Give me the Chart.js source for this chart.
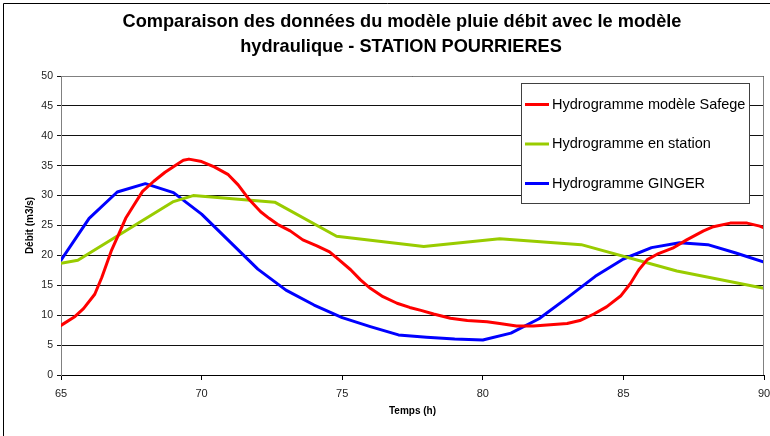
<!DOCTYPE html>
<html>
<head>
<meta charset="utf-8">
<script src="https://cdn.jsdelivr.net/npm/chart.js@4.4.0/dist/chart.umd.min.js"></script>
<style>
  html, body { margin: 0; padding: 0; background: #fff; }
  #wrap { width: 770px; height: 436px; position: relative; }
</style>
</head>
<body>
<div id="wrap"><canvas id="chartPourrieres" width="770" height="436"></canvas></div>
<script>
// Hydrogramme modèle Safege
const safegeTemps = [65.0, 65.5, 65.8, 66.2, 66.45, 66.8, 67.05, 67.3, 67.55, 67.9, 68.3, 68.7, 69.05, 69.35, 69.55, 70.0,
    70.45, 70.95, 71.3, 71.7, 72.1, 72.4, 72.7, 73.15, 73.6, 74.1, 74.55, 74.9, 75.3, 75.65, 76.0, 76.45, 76.95,
    77.4, 77.8, 78.25, 78.85, 79.45, 80.15, 80.6, 81.2, 81.8, 82.4, 83.0, 83.45, 83.95, 84.4, 84.9, 85.25, 85.55,
    85.85, 86.2, 86.75, 87.25, 87.85, 88.2, 88.8, 89.4, 89.85, 90.0];
const safegeDebit = [8.3, 9.8, 11.1, 13.5, 16.3, 20.9, 23.5, 26.2, 28.1, 30.7, 32.4, 33.9, 35.0, 35.9, 36.1, 35.7,
    34.8, 33.5, 31.8, 29.3, 27.3, 26.2, 25.2, 24.1, 22.6, 21.6, 20.6, 19.2, 17.6, 15.9, 14.5, 13.1, 12.0,
    11.3, 10.8, 10.2, 9.5, 9.1, 8.9, 8.6, 8.2, 8.2, 8.4, 8.6, 9.1, 10.2, 11.4, 13.2, 15.3, 17.6,
    19.3, 20.2, 21.2, 22.6, 24.1, 24.8, 25.4, 25.4, 24.9, 24.6];

// Hydrogramme en station
const stationTemps = [65.0, 65.6, 69.0, 69.7, 72.6, 74.8, 77.9, 80.6, 83.5, 86.9, 90.0];
const stationDebit = [18.7, 19.2, 29.0, 30.0, 28.9, 23.2, 21.5, 22.8, 21.8, 17.4, 14.5];

// Hydrogramme GINGER
const gingerTemps = [65, 66, 67, 68, 69, 70, 71, 72, 73, 74, 75, 76, 77, 78, 79, 80, 81, 82, 83, 84, 85, 86, 87, 88, 89, 90];
const gingerDebit = [19.2, 26.2, 30.6, 32.0, 30.5, 26.9, 22.3, 17.7, 14.2, 11.7, 9.6, 8.1, 6.7, 6.3, 6.0, 5.85,
    7.0, 9.4, 12.9, 16.5, 19.4, 21.3, 22.1, 21.8, 20.4, 18.9];

const titre = ['Comparaison des données du modèle pluie débit avec le modèle', 'hydraulique - STATION POURRIERES'];
const police = "'Liberation Sans', Arial, sans-serif";

const points = (xs, ys) => xs.map((x, i) => ({x: x, y: ys[i]}));

const serie = (label, color, xs, ys) => ({
    label: label,
    data: points(xs, ys),
    borderColor: color,
    backgroundColor: color,
    borderWidth: 3,
    pointRadius: 0,
    tension: 0,
    borderJoinStyle: 'round',
    borderCapStyle: 'round'
});

// cadre, titre, bordure du graphe et légende
const decor = {
    id: 'decor',
    afterDatasetsDraw(chart) {
        const {ctx, chartArea: a} = chart;
        ctx.save();

        ctx.strokeStyle = '#000';
        ctx.lineWidth = 1;
        ctx.beginPath();
        ctx.moveTo(3.5, 440);
        ctx.lineTo(3.5, 3.5);
        ctx.lineTo(775, 3.5);
        ctx.stroke();

        ctx.fillStyle = '#000';
        ctx.font = 'bold 18.2px ' + police;
        ctx.textAlign = 'center';
        ctx.textBaseline = 'middle';
        ctx.fillText(titre[0], 402, 22);
        ctx.fillText(titre[1], 401, 47);

        ctx.strokeStyle = '#808080';
        ctx.beginPath();
        ctx.moveTo(a.left, a.top + 0.5);
        ctx.lineTo(a.right - 0.5, a.top + 0.5);
        ctx.lineTo(a.right - 0.5, a.bottom);
        ctx.stroke();

        // légende
        const bx = 521.5, by = 83.5, bw = 228, bh = 120;
        ctx.fillStyle = '#fff';
        ctx.fillRect(bx, by, bw, bh);
        ctx.strokeStyle = '#404040';
        ctx.strokeRect(bx, by, bw, bh);
        ctx.font = '14.5px ' + police;
        ctx.textAlign = 'left';
        chart.data.datasets.forEach((ds, i) => {
            const y = 104.5 + i * 39.5;
            ctx.strokeStyle = ds.borderColor;
            ctx.lineWidth = 3;
            ctx.beginPath();
            ctx.moveTo(525, y);
            ctx.lineTo(549, y);
            ctx.stroke();
            ctx.fillStyle = '#000';
            ctx.fillText(ds.label, 552, y);
        });
        ctx.restore();
    }
};

new Chart(document.getElementById('chartPourrieres'), {
    type: 'line',
    data: {
        datasets: [
            serie('Hydrogramme modèle Safege', '#ff0000', safegeTemps, safegeDebit),
            serie('Hydrogramme en station', '#99cc00', stationTemps, stationDebit),
            serie('Hydrogramme GINGER', '#0000ff', gingerTemps, gingerDebit)
        ]
    },
    options: {
        responsive: false,
        animation: false,
        devicePixelRatio: 1,
        layout: { padding: { top: 76, right: 0, left: 0, bottom: 0 } },
        plugins: {
            legend: { display: false },
            title: { display: false },
            tooltip: { enabled: false }
        },
        scales: {
            x: {
                type: 'linear',
                min: 65,
                max: 90,
                afterFit: s => { s.height = 61; s.paddingRight = 6; },
                ticks: {
                    stepSize: 5,
                    color: '#222',
                    padding: 7,
                    maxRotation: 0,
                    font: { family: police, size: 11 }
                },
                grid: { drawOnChartArea: false, color: '#000', tickLength: 5 },
                border: { color: '#000' },
                title: {
                    display: true,
                    text: 'Temps (h)',
                    color: '#000',
                    font: { family: police, size: 10, weight: 'bold' },
                    padding: { top: 0, bottom: 19 }
                }
            },
            y: {
                min: 0,
                max: 50,
                afterFit: s => { s.width = 61; },
                ticks: {
                    stepSize: 5,
                    color: '#222',
                    padding: 4,
                    font: { family: police, size: 10.5 }
                },
                grid: { color: '#111', tickLength: 4 },
                border: { color: '#808080' },
                title: {
                    display: true,
                    text: 'Débit (m3/s)',
                    color: '#000',
                    font: { family: police, size: 10, weight: 'bold' },
                    padding: { top: 24, bottom: 0 }
                }
            }
        }
    },
    plugins: [decor]
});
</script>
</body>
</html>
